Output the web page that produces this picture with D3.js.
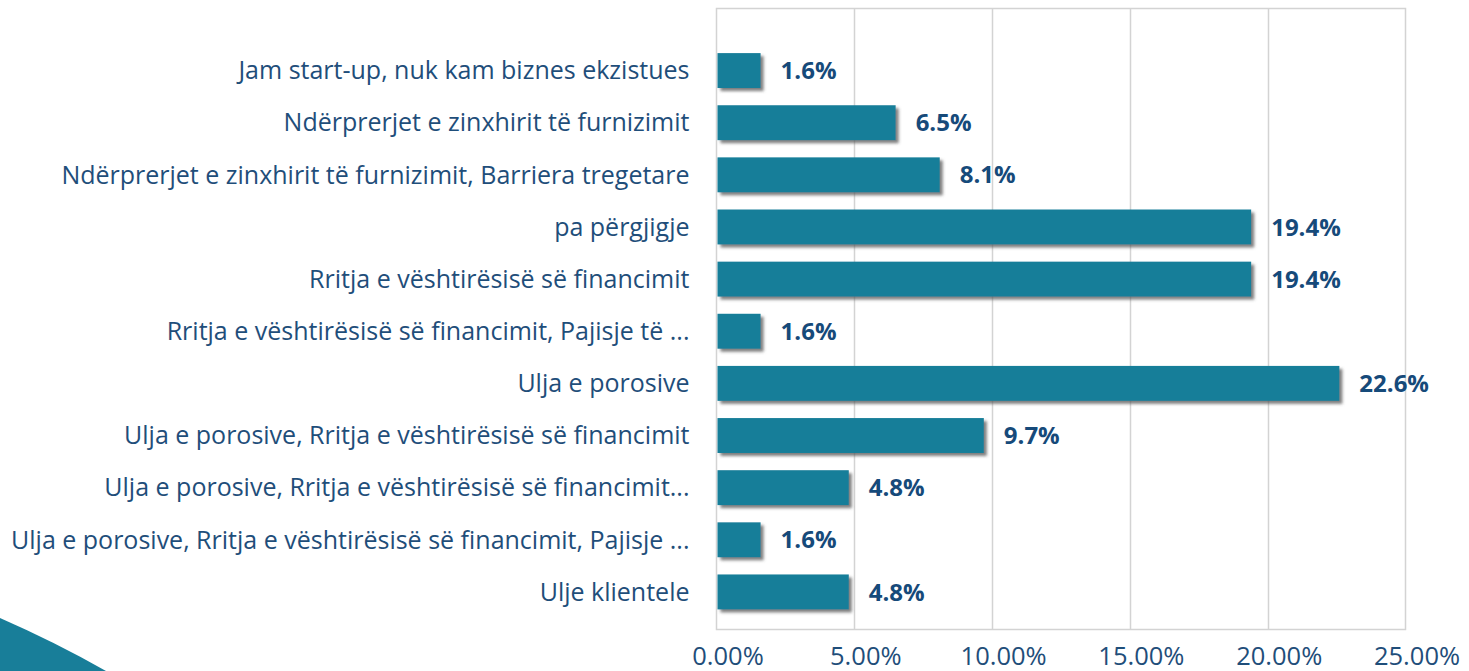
<!DOCTYPE html>
<html><head><meta charset="utf-8">
<script src="https://cdn.jsdelivr.net/npm/d3@7"></script>
<style>
html,body{margin:0;padding:0;background:#fff;overflow:hidden}
svg{display:block}
</style></head>
<body>
<script>
const categories = [
  "Jam start-up, nuk kam biznes ekzistues",
  "Ndërprerjet e zinxhirit të furnizimit",
  "Ndërprerjet e zinxhirit të furnizimit, Barriera tregetare",
  "pa përgjigje",
  "Rritja e vështirësisë së financimit",
  "Rritja e vështirësisë së financimit, Pajisje të ...",
  "Ulja e porosive",
  "Ulja e porosive, Rritja e vështirësisë së financimit",
  "Ulja e porosive, Rritja e vështirësisë së financimit...",
  "Ulja e porosive, Rritja e vështirësisë së financimit, Pajisje ...",
  "Ulje klientele"
];
const values = [1.6, 6.5, 8.1, 19.4, 19.4, 1.6, 22.6, 9.7, 4.8, 1.6, 4.8];
const dataLabels = ["1.6%","6.5%","8.1%","19.4%","19.4%","1.6%","22.6%","9.7%","4.8%","1.6%","4.8%"];
const tickValues = [0, 5, 10, 15, 20, 25];
const tickLabels = ["0.00%","5.00%","10.00%","15.00%","20.00%","25.00%"];

(function(){
const W = 1469, H = 671;
const FONT = "'Open Sans','Noto Sans',sans-serif";
const svg = d3.select("body").append("svg").attr("width", W).attr("height", H);

const defs = svg.append("defs");
const f = defs.append("filter").attr("id","shadow").attr("x","-10%").attr("y","-20%").attr("width","130%").attr("height","160%");
f.append("feDropShadow").attr("dx",3).attr("dy",3).attr("stdDeviation",1.5)
  .attr("flood-color","#555").attr("flood-opacity",0.75);

const pL = 716.5, pR = 1405.5, pT = 8.5, pB = 629.5;
const x = d3.scaleLinear().domain([0, 25]).range([pL, pR]);
const y = d3.scaleBand().domain(categories).range([44.5, 618]).paddingInner(0.33).paddingOuter(0.165);

// decorative corner shape
svg.append("path").attr("d","M0,618 Q55,642 106,671 L0,671 Z").attr("fill","#187e99");

// frame & grid
svg.append("rect").attr("x",pL).attr("y",pT).attr("width",pR-pL).attr("height",pB-pT)
  .attr("fill","none").attr("stroke","#d3d3d3").attr("stroke-width",1.5);
svg.append("g").selectAll("line").data(tickValues.slice(1,-1)).join("line")
  .attr("x1",d=>Math.round(x(d))+0.5).attr("x2",d=>Math.round(x(d))+0.5)
  .attr("y1",pT).attr("y2",pB).attr("stroke","#d3d3d3").attr("stroke-width",1.5);

// x tick labels
const xAxis = d3.axisBottom(x).tickValues(tickValues).tickFormat((d,i)=>tickLabels[i]).tickSize(0).tickPadding(0);
const gx = svg.append("g").attr("transform",`translate(0,${pB})`).call(xAxis);
gx.select(".domain").remove();
gx.selectAll("text").attr("dx",11).attr("y",0).attr("dy",35)
  .style("font-family",FONT).style("font-size","25.5px").attr("fill","#1f4e7a");

// y labels
const yAxis = d3.axisLeft(y).tickSize(0).tickPadding(0);
const gy = svg.append("g").attr("transform",`translate(${pL-27},0)`).call(yAxis);
gy.select(".domain").remove();
gy.selectAll("text").attr("dy","0.35em")
  .style("font-family",FONT).style("font-size","25px").attr("fill","#1f4e7a");

// bars
svg.append("g").selectAll("rect").data(values).join("rect")
  .attr("x", x(0)+1).attr("y",(d,i)=>y(categories[i]))
  .attr("width",d=>x(d)-x(0)-1).attr("height",y.bandwidth())
  .attr("fill","#187e99").attr("filter","url(#shadow)");

// data labels
svg.append("g").selectAll("text").data(values).join("text")
  .attr("x",d=>x(d)+20).attr("y",(d,i)=>y(categories[i])+y.bandwidth()/2)
  .attr("dy","0.36em").text((d,i)=>dataLabels[i])
  .style("font-family",FONT).style("font-size","24px").style("font-weight","700")
  .attr("fill","#164a7a");
})();
</script>
</body></html>
